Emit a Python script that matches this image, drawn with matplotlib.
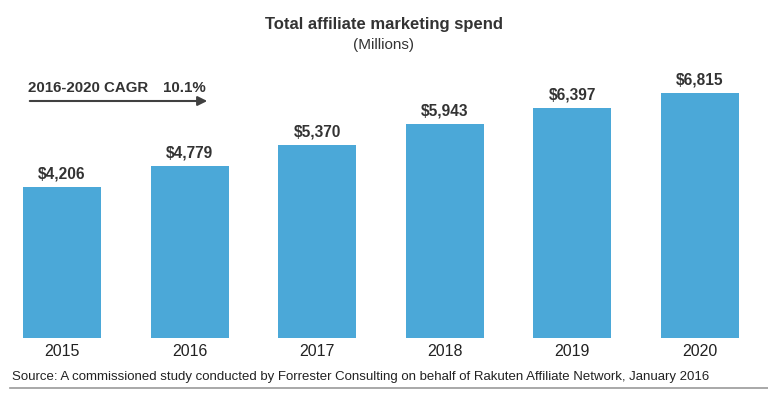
import matplotlib.pyplot as plt

plt.rcParams['font.family'] = ['Liberation Sans', 'DejaVu Sans']

years = ['2015', '2016', '2017', '2018', '2019', '2020']
spend = [4206, 4779, 5370, 5943, 6397, 6815]
labels = ['$4,206', '$4,779', '$5,370', '$5,943', '$6,397', '$6,815']

fig = plt.figure(figsize=(7.68, 3.96), dpi=100)
ax = fig.add_axes([0, 1 - 338 / 396, 1, (338 - 60) / 396])

x = range(len(years))
ax.bar(x, spend, width=0.61, color='#4ba8d8')
for i, v in enumerate(spend):
    ax.text(i, v + 150, labels[i], ha='center', va='bottom',
            fontsize=11.2, fontweight='bold', color='#333333')

ax.set_xlim(-0.486, 5.533)
ax.set_ylim(0, 6815 * (338 - 60) / 245)
ax.axis('off')

# year labels under the bars
for i, y in enumerate(years):
    fig.text((62 + 127.6 * i) / 768, 1 - 351 / 396, y, ha='center', va='center',
             fontsize=11.5, color='#222222')

fig.text(0.5, 1 - 25 / 396, 'Total affiliate marketing spend', ha='center',
         va='center', fontsize=12, fontweight='bold', color='#333333')
fig.text(0.5, 1 - 45 / 396, '(Millions)', ha='center', va='center',
         fontsize=11, color='#333333')

# CAGR arrow
fig.text(28 / 768, 1 - 88 / 396, '2016-2020 CAGR', ha='left', va='center',
         fontsize=10.8, fontweight='bold', color='#333333')
fig.text(163 / 768, 1 - 88 / 396, '10.1%', ha='left', va='center',
         fontsize=10.8, fontweight='bold', color='#333333')
ax.annotate('', xy=(210 / 768, 1 - 101 / 396), xytext=(27 / 768, 1 - 101 / 396),
            xycoords='figure fraction',
            arrowprops=dict(arrowstyle='-|>', color='#404040', lw=1.5,
                            mutation_scale=14))

fig.text(12 / 768, 1 - 377 / 396,
         'Source: A commissioned study conducted by Forrester Consulting on behalf of '
         'Rakuten Affiliate Network, January 2016',
         ha='left', va='center', fontsize=9.5, color='#222222')
fig.add_artist(plt.Line2D([10 / 768, 1], [1 - 388 / 396, 1 - 388 / 396],
                          color='#999999', lw=1.2))

fig.savefig('out.png', dpi=100, facecolor='white')
